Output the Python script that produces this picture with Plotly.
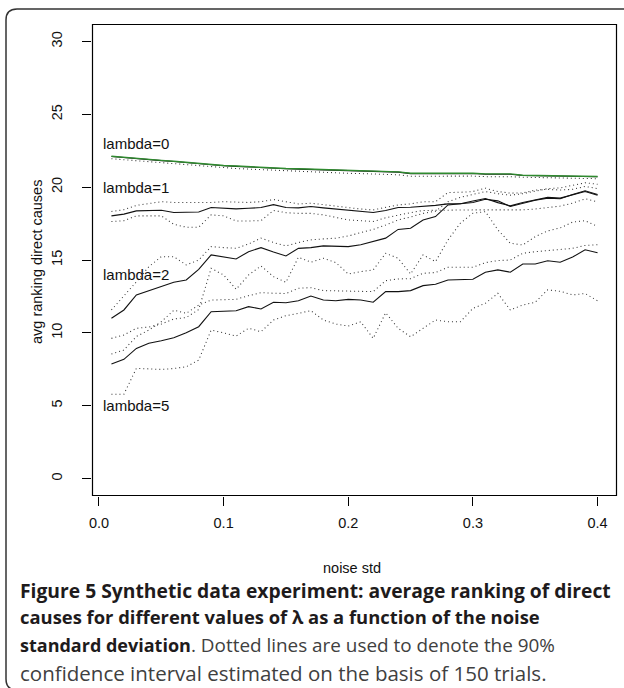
import plotly.graph_objects as go

# ---------------- data ----------------
noise_std = [round(0.01 * (i + 1), 2) for i in range(40)]

lam0_mean = [22.10, 22.02, 21.95, 21.88, 21.82, 21.76, 21.68, 21.60, 21.53, 21.47,
             21.43, 21.38, 21.34, 21.30, 21.26, 21.24, 21.21, 21.17, 21.14, 21.12,
             21.10, 21.07, 21.05, 21.03, 20.93, 20.94, 20.95, 20.95, 20.96, 20.94,
             20.89, 20.90, 20.89, 20.80, 20.78, 20.76, 20.75, 20.73, 20.72, 20.71]
lam0_upper = [22.12, 22.04, 21.97, 21.90, 21.84, 21.78, 21.70, 21.62, 21.55, 21.49,
              21.45, 21.40, 21.36, 21.32, 21.28, 21.26, 21.23, 21.19, 21.16, 21.14,
              21.12, 21.09, 21.07, 21.05, 20.95, 20.96, 20.97, 20.97, 20.98, 20.96,
              20.91, 20.92, 20.91, 20.82, 20.80, 20.78, 20.77, 20.75, 20.74, 20.73]
lam0_lower = [21.95, 21.88, 21.80, 21.74, 21.69, 21.62, 21.52, 21.46, 21.40, 21.32,
              21.28, 21.24, 21.20, 21.15, 21.10, 21.07, 21.05, 21.00, 20.97, 20.95,
              20.93, 20.90, 20.88, 20.85, 20.75, 20.76, 20.78, 20.78, 20.78, 20.76,
              20.72, 20.73, 20.72, 20.68, 20.66, 20.64, 20.63, 20.62, 20.60, 20.58]

lam1_mean = [18.03, 18.15, 18.37, 18.40, 18.42, 18.26, 18.28, 18.30, 18.60, 18.57,
             18.51, 18.55, 18.60, 18.80, 18.60, 18.58, 18.67, 18.58, 18.51, 18.45,
             18.35, 18.26, 18.40, 18.60, 18.62, 18.67, 18.75, 18.85, 18.86, 19.05,
             19.22, 18.94, 18.72, 18.95, 19.10, 19.30, 19.25, 19.45, 19.70, 19.45]
lam1_upper = [18.33, 18.45, 18.75, 18.85, 19.00, 18.95, 18.95, 18.90, 18.95, 19.00,
              18.95, 18.95, 19.00, 19.15, 19.00, 18.85, 18.90, 18.80, 18.67, 18.60,
              18.50, 18.44, 18.60, 18.78, 18.85, 19.00, 19.00, 19.63, 19.65, 19.70,
              19.93, 19.70, 19.59, 19.60, 19.80, 19.85, 19.80, 19.85, 20.05, 19.90]
lam1_lower = [17.64, 17.70, 18.03, 18.03, 18.03, 17.45, 17.25, 17.25, 18.10, 18.03,
              17.68, 17.68, 17.70, 18.40, 18.25, 18.20, 18.20, 18.10, 17.90, 17.75,
              17.70, 17.64, 17.90, 18.10, 18.25, 18.40, 18.42, 18.44, 18.44, 18.44,
              18.44, 18.44, 18.44, 18.44, 18.50, 18.60, 18.70, 18.90, 19.20, 19.00]

lam2_mean = [11.00, 11.57, 12.60, 12.90, 13.17, 13.47, 13.63, 14.36, 15.35, 15.20,
             15.07, 15.57, 15.85, 15.55, 15.28, 15.80, 15.85, 15.97, 15.95, 15.92,
             16.05, 16.26, 16.50, 17.10, 17.18, 17.75, 17.98, 18.78, 18.85, 18.95,
             19.17, 19.06, 18.67, 18.90, 19.10, 19.25, 19.20, 19.50, 19.75, 19.50]
lam2_upper = [11.57, 12.50, 13.50, 14.54, 15.23, 15.23, 14.66, 15.00, 15.92, 15.85,
              15.80, 16.10, 16.50, 16.20, 15.97, 16.20, 16.38, 16.45, 16.50, 16.65,
              16.85, 17.10, 17.40, 17.75, 17.95, 18.20, 18.35, 19.00, 19.30, 19.50,
              19.70, 19.55, 19.45, 19.55, 19.75, 19.90, 19.95, 20.10, 20.30, 20.20]
lam2_lower = [9.62, 9.85, 10.31, 10.40, 10.60, 10.95, 11.05, 11.60, 14.43, 13.97,
              12.99, 13.97, 14.59, 13.86, 13.47, 15.19, 14.85, 15.12, 14.82, 14.04,
              14.20, 14.32, 15.46, 15.12, 14.04, 15.35, 14.89, 16.38, 17.53, 18.21,
              18.32, 17.07, 16.15, 16.03, 16.60, 17.00, 17.20, 17.60, 17.70, 17.30]

lam5_mean = [7.86, 8.18, 8.93, 9.28, 9.46, 9.66, 10.00, 10.42, 11.45, 11.50,
             11.52, 11.80, 11.64, 12.10, 12.07, 12.20, 12.53, 12.25, 12.20, 12.30,
             12.25, 12.10, 12.83, 12.83, 12.90, 13.24, 13.33, 13.63, 13.66, 13.68,
             14.16, 14.32, 14.16, 14.73, 14.73, 14.95, 14.85, 15.20, 15.70, 15.50]
lam5_upper = [8.54, 8.82, 9.75, 10.19, 10.76, 11.55, 11.34, 11.91, 12.25, 12.28,
              12.30, 12.55, 12.76, 12.72, 12.70, 13.06, 13.10, 12.90, 12.88, 12.90,
              12.87, 12.83, 13.58, 13.70, 13.72, 14.09, 14.14, 14.50, 14.50, 14.50,
              14.82, 14.96, 15.00, 15.46, 15.57, 15.65, 15.70, 15.80, 16.00, 16.05]
lam5_lower = [5.79, 5.79, 7.56, 7.52, 7.49, 7.55, 7.67, 8.13, 10.19, 10.00,
              9.78, 10.31, 10.08, 10.88, 11.18, 11.34, 11.52, 10.88, 10.60, 10.47,
              10.76, 9.62, 11.38, 10.31, 9.73, 10.31, 10.88, 10.76, 10.76, 11.68,
              12.03, 12.71, 11.57, 11.91, 12.10, 12.95, 12.85, 12.60, 12.70, 12.20]

label_texts = ["lambda=0", "lambda=1", "lambda=2", "lambda=5"]
label_x = [0.03, 0.03, 0.03, 0.03]
label_y = [23, 20, 14, 5]

x_ticks = [0.0, 0.1, 0.2, 0.3, 0.4]
x_tick_text = ["0.0", "0.1", "0.2", "0.3", "0.4"]
y_ticks = [0, 5, 10, 15, 20, 25, 30]
y_tick_text = ["0", "5", "10", "15", "20", "25", "30"]

# ---------------- figure ----------------
W, H = 624, 688
L, R, T, B = 92, 7, 24, 192
PW = W - L - R
PH = H - T - B

def px(xp):
    return (xp - L) / PW

def py(yp):
    return (H - B - yp) / PH

fig = go.Figure()

FONT = "Liberation Sans, Arial, Helvetica, sans-serif"
dot_style = dict(color="#333333", width=1.05, dash="1px,3px")
solid_style = dict(color="#111111", width=1.1)

for lo in [lam0_lower, lam1_lower, lam2_lower, lam5_lower]:
    fig.add_trace(go.Scatter(x=noise_std, y=lo, mode="lines", line=dot_style,
                             showlegend=False, hoverinfo="skip"))
for up in [lam1_upper, lam2_upper, lam5_upper]:
    fig.add_trace(go.Scatter(x=noise_std, y=up, mode="lines", line=dot_style,
                             showlegend=False, hoverinfo="skip"))
for m in [lam0_mean, lam1_mean, lam2_mean, lam5_mean]:
    fig.add_trace(go.Scatter(x=noise_std, y=m, mode="lines", line=solid_style,
                             showlegend=False, hoverinfo="skip"))
fig.add_trace(go.Scatter(x=noise_std, y=lam0_upper, mode="lines",
                         line=dict(color="#2f8a2f", width=1.4),
                         showlegend=False, hoverinfo="skip"))

for t, xv, yv in zip(label_texts, label_x, label_y):
    fig.add_annotation(x=xv, y=yv, xref="x", yref="y", text=t, showarrow=False,
                       font=dict(family=FONT, size=15, color="#111111"),
                       xanchor="center", yanchor="middle")

# axis titles
fig.add_annotation(x=px(37), y=py(262), xref="paper", yref="paper",
                   text="avg ranking direct causes", textangle=-90, showarrow=False,
                   font=dict(family=FONT, size=14.5, color="#111111"),
                   xanchor="center", yanchor="middle")
fig.add_annotation(x=px(352), y=py(568), xref="paper", yref="paper",
                   text="noise std", showarrow=False,
                   font=dict(family=FONT, size=14.5, color="#111111"),
                   xanchor="center", yanchor="middle")

# caption
CAP = "Open Sans, Noto Sans, sans-serif"
bold_c = "#1e1b1c"
reg_c = "#404040"
cap_parts = [
    # (left x px, centre y px, size, colour, text)
    (19, 590, 19.3, bold_c, "<b>Figure 5 Synthetic data experiment: average ranking of direct</b>"),
    (19, 617, 18.4, bold_c, "<b>causes for different values of λ as a function of the noise</b>"),
    (19, 645, 18.0, bold_c, "<b>standard deviation</b>"),
    (190, 645, 18.9, reg_c, ". Dotted lines are used to denote the 90%"),
    (19, 673, 20.5, reg_c, "confidence interval estimated on the basis of 150 trials."),
]
for xx, yy, fs, col, txt in cap_parts:
    fig.add_annotation(x=px(xx), y=py(yy), xref="paper", yref="paper", text=txt,
                       showarrow=False, xanchor="left", yanchor="middle", align="left",
                       borderpad=0,
                       font=dict(family=CAP, size=fs, color=col))

# rounded outer border (right and bottom edges fall outside the image)
x0, x1, y0, y1, r = 6, 630, 9, 690, 11
path = ("M {a},{b} L {c},{b} L {c},{d} L {e},{d} Q {f},{d} {f},{g} L {f},{h} Q {f},{i} {j},{i} Z").format(
    a=px(x0 + r), b=py(y0), c=px(x1), d=py(y1), e=px(x0 + r), f=px(x0), g=py(y1 - r),
    h=py(y0 + r), i=py(y0), j=px(x0 + r))
fig.add_shape(type="path", path=path, xref="paper", yref="paper",
              line=dict(color="#333333", width=1.5), fillcolor="rgba(0,0,0,0)",
              layer="above")

# plot box as an SVG path in paper units
bx0, bx1, by0, by1 = px(L + 0.5), px(W - R - 0.5), py(T + 0.5), py(H - B - 0.5)
box_path = "M {a},{c} L {b},{c} L {b},{d} L {a},{d} Z".format(a=bx0, b=bx1, c=by0, d=by1)
fig.add_shape(type="path", path=box_path, xref="paper", yref="paper",
              line=dict(color="#000000", width=1.2), fillcolor="rgba(0,0,0,0)",
              layer="above")

axis_common = dict(showgrid=False, zeroline=False, showline=False,
                   ticks="outside", ticklen=9,
                   tickwidth=1, tickcolor="#000000",
                   tickfont=dict(family=FONT, size=14.5, color="#111111"))

fig.update_layout(
    width=W, height=H,
    margin=dict(l=L, r=R, t=T, b=B, pad=0),
    paper_bgcolor="white", plot_bgcolor="white",
    xaxis=dict(range=[-0.0056, 0.4156], tickvals=x_ticks, ticktext=x_tick_text,
               ticklabelstandoff=5, **axis_common),
    yaxis=dict(range=[-1.2, 31.2], tickvals=y_ticks, ticktext=y_tick_text,
               tickangle=-90, ticklabelstandoff=14, **axis_common),
    showlegend=False,
)

fig.write_html("out.html", config={"displayModeBar": False},
               post_script="document.body.style.margin='0px';document.body.style.overflow='hidden';")
